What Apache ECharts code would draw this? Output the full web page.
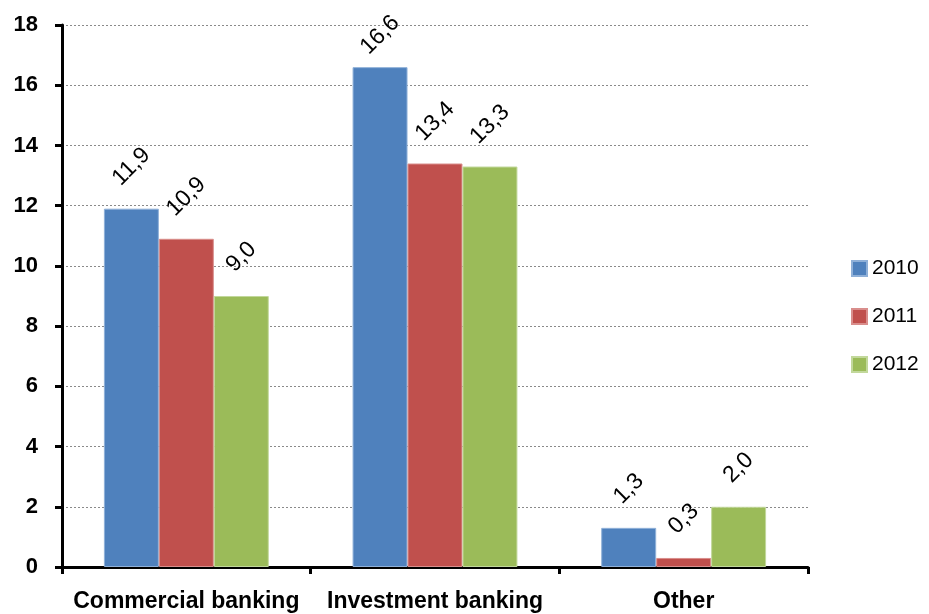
<!DOCTYPE html>
<html>
<head>
<meta charset="utf-8">
<style>
  html, body { margin: 0; padding: 0; background: #fff; }
  #chart { width: 929px; height: 614px; }
</style>
<script src="https://cdn.jsdelivr.net/npm/echarts@6/dist/echarts.min.js"></script>
</head>
<body>
<div id="chart"></div>
<script>
// Business segments and yearly values
const categories = ['Commercial banking', 'Investment banking', 'Other'];
const years = ['2010', '2011', '2012'];
const values2010 = [11.9, 16.6, 1.3];
const values2011 = [10.9, 13.4, 0.3];
const values2012 = [9.0, 13.3, 2.0];
const yTicks = [0, 2, 4, 6, 8, 10, 12, 14, 16, 18];

const seriesValues = [values2010, values2011, values2012];
const colors = ['#4F81BD', '#C0504D', '#9BBB59'];
const borders = ['#8fb0d8', '#d98e8c', '#c2d89b'];

const fmt = v => v.toFixed(1).replace('.', ',');
const FONT = '"Liberation Sans", Arial, sans-serif';

const chart = echarts.init(document.getElementById('chart'), null, { renderer: 'canvas' });

// label distance: centre of rotated label sits above the bar top,
// pulled down when it would run past the top of the canvas
function labelDistance(v, topLimitPx) {
  const txt = fmt(v);
  let d = 30 + 3 * txt.length;
  if (topLimitPx !== undefined) {
    const barTop = chart.convertToPixel({ gridIndex: 0 }, [0, v])[1];
    if (barTop - d < topLimitPx) d = barTop - topLimitPx;
  }
  return d;
}

function buildSeries(withClamp) {
  return years.map((y, i) => ({
    name: y,
    type: 'bar',
    barGap: '0%',
    barCategoryGap: '33.7%',
    itemStyle: { color: colors[i], borderColor: borders[i], borderWidth: 1 },
    data: seriesValues[i].map(v => ({
      value: v,
      label: { distance: labelDistance(v, withClamp ? 35 : undefined) }
    })),
    label: {
      show: true,
      position: 'top',
      rotate: 45,
      align: 'center',
      verticalAlign: 'middle',
      color: '#000',
      fontFamily: FONT,
      fontSize: 23,
      formatter: p => fmt(p.value)
    }
  }));
}

const option = {
  animation: false,
  backgroundColor: '#fff',
  grid: { left: 62, right: 121, top: 25, bottom: 47, containLabel: false },
  legend: {
    orient: 'vertical',
    left: 851,
    top: 258,
    padding: 0,
    itemWidth: 15,
    itemHeight: 15,
    itemGap: 27,
    icon: 'rect',
    textStyle: { fontFamily: FONT, fontSize: 21, color: '#000' },
    data: years
  },
  xAxis: {
    type: 'category',
    data: categories,
    axisLine: { lineStyle: { color: '#000', width: 3 } },
    axisTick: { show: true, length: 7, inside: false, lineStyle: { color: '#000', width: 3 } },
    axisLabel: { interval: 0, fontFamily: FONT, fontSize: 23, fontWeight: 'bold', color: '#000', margin: 23 },
    splitLine: { show: false }
  },
  yAxis: {
    type: 'value',
    min: yTicks[0],
    max: yTicks[yTicks.length - 1],
    interval: yTicks[1] - yTicks[0],
    axisLine: { show: true, lineStyle: { color: '#000', width: 3 } },
    axisTick: { show: true, length: 7, lineStyle: { color: '#000', width: 3 } },
    axisLabel: { fontFamily: FONT, fontSize: 22, fontWeight: 'bold', color: '#000', margin: 24 },
    splitLine: { show: true, lineStyle: { color: '#8a8a8a', type: [2, 2], width: 1 } }
  },
  series: buildSeries(false)
};

chart.setOption(option);
chart.setOption({ series: buildSeries(true) });
</script>
</body>
</html>
